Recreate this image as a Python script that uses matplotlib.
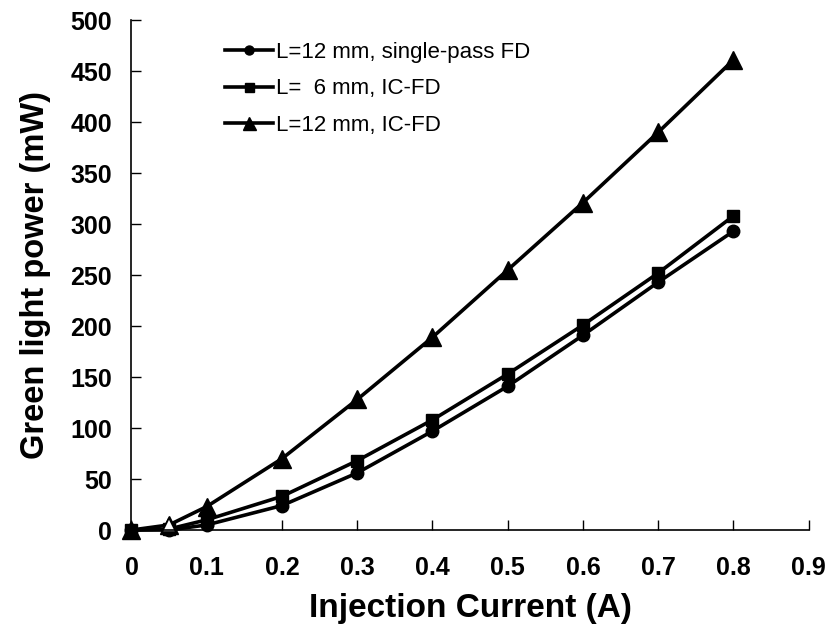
import matplotlib.pyplot as plt
import numpy as np

plt.rcParams["font.family"] = ["Liberation Sans", "DejaVu Sans"]

current = [0, 0.05, 0.1, 0.2, 0.3, 0.4, 0.5, 0.6, 0.7, 0.8]
p_single_12 = [0, 0, 5, 24, 56, 97, 141, 191, 243, 293]
p_ic_6 = [0, 1, 10, 33, 68, 108, 153, 201, 252, 308]
p_ic_12 = [0, 5, 23, 70, 128, 189, 255, 321, 390, 461]

labels = ["L=12 mm, single-pass FD", "L=  6 mm, IC-FD", "L=12 mm, IC-FD"]
xticks = [0, 0.1, 0.2, 0.3, 0.4, 0.5, 0.6, 0.7, 0.8, 0.9]
yticks = [0, 50, 100, 150, 200, 250, 300, 350, 400, 450, 500]


def main():
    fig = plt.figure(figsize=(8.32, 6.28), dpi=100)
    ax = fig.add_axes([0.158, 0.156, 0.814, 0.812])

    ax.plot(current, p_single_12, "k-o", lw=2.6, ms=9, label=labels[0], clip_on=False)
    ax.plot(current, p_ic_6, "k-s", lw=2.6, ms=9, label=labels[1], clip_on=False)
    ax.plot(current, p_ic_12, "k-^", lw=2.6, ms=13, label=labels[2], clip_on=False)
    # hollow point at 0.05
    ax.plot(current[1], p_ic_12[1], marker="^", ms=10, mfc="white", mec="k",
            mew=1.2, ls="none", clip_on=False)

    ax.set_xlim(0, 0.9)
    ax.set_ylim(0, 500)
    ax.set_xticks(xticks)
    ax.set_xticklabels([str(t) if t else "0" for t in xticks])
    ax.set_yticks(yticks)
    ax.tick_params(direction="in", length=7, width=1, labelsize=18)
    ax.tick_params(axis="x", pad=19)
    ax.tick_params(axis="y", pad=14)
    for t in ax.get_xticklabels() + ax.get_yticklabels():
        t.set_fontweight("bold")
    ax.spines["top"].set_visible(False)
    ax.spines["right"].set_visible(False)
    for s in ["left", "bottom"]:
        ax.spines[s].set_linewidth(1.2)

    ax.set_xlabel("Injection Current (A)", fontsize=24, fontweight="bold", labelpad=9)
    ax.set_ylabel("Green light power (mW)", fontsize=23.5, fontweight="bold", labelpad=14)

    ax.legend(loc="upper left", bbox_to_anchor=(0.108, 0.996), frameon=False,
              fontsize=16, handlelength=2.2, handletextpad=0.1,
              labelspacing=0.69, markerscale=0.72)

    fig.savefig("out.png", dpi=100)


main()
